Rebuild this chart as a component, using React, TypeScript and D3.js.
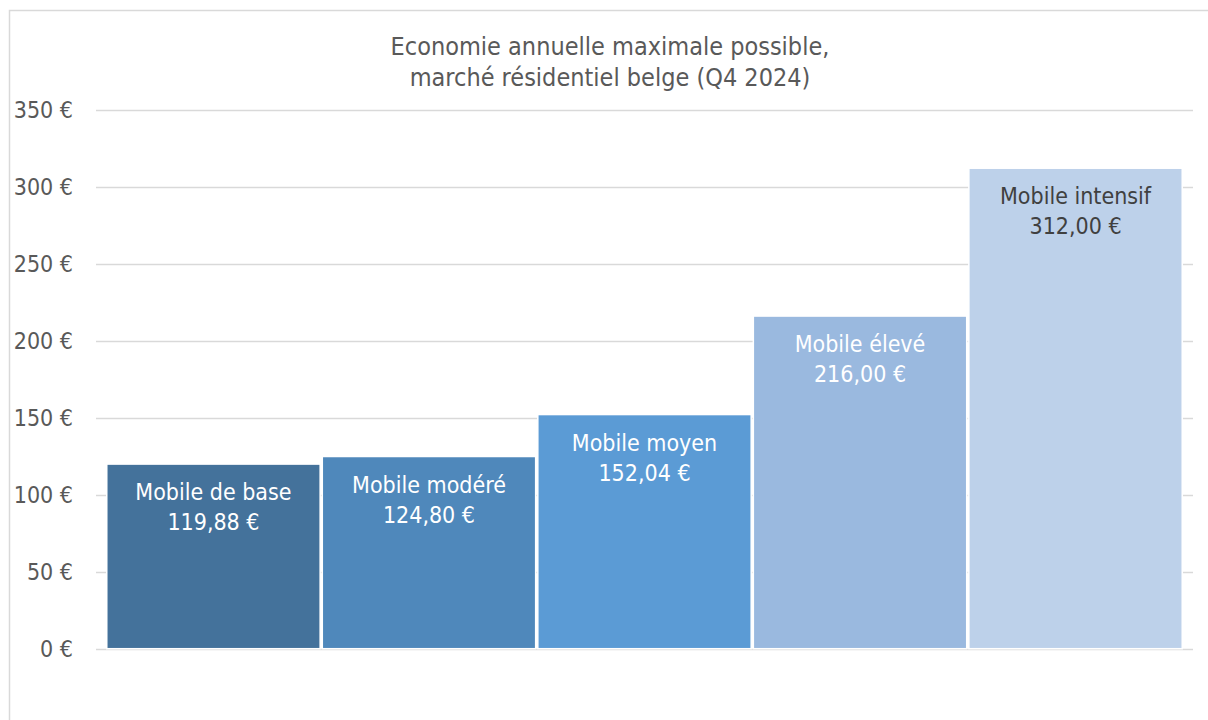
import React from "react";
import * as d3 from "d3";

const categories = ["Mobile de base", "Mobile modéré", "Mobile moyen", "Mobile élevé", "Mobile intensif"];
const values = [119.88, 124.8, 152.04, 216.0, 312.0];
const barColors = ["#44729B", "#4F88BB", "#5B9BD5", "#9AB9DF", "#BDD1EA"];
const labelColors = ["#FFFFFF", "#FFFFFF", "#FFFFFF", "#FFFFFF", "#404040"];
const yTicks = [0, 50, 100, 150, 200, 250, 300, 350];
const titleLines = ["Economie annuelle maximale possible,", "marché résidentiel belge (Q4 2024)"];

const W = 1208;
const H = 720;
const FONT = "'DejaVu Sans Condensed', 'DejaVu Sans', Verdana, sans-serif";

export default function App() {
  const x = d3.scaleBand<string>().domain(categories).range([96, 1193]).paddingInner(0.01).paddingOuter(0.05);
  const y = d3.scaleLinear().domain([0, 350]).range([648.7, 109.7]);
  const fmt = (v: number) => v.toFixed(2).replace(".", ",") + " €";

  return (
    <svg width={W} height={H} style={{ position: "absolute", left: 0, top: 0, background: "#fff" }}>
      <rect x={9.5} y={10.5} width={1300} height={800} fill="#fff" stroke="#D9D9D9" strokeWidth={1.5} />
      {titleLines.map((t, i) => (
        <text key={i} x={610} y={55 + i * 31} textAnchor="middle" fontFamily={FONT} fontSize={25} fill="#595959">
          {t}
        </text>
      ))}
      {yTicks.map((t) => (
        <g key={t}>
          <line x1={96} x2={1193} y1={Math.round(y(t)) + 0.5} y2={Math.round(y(t)) + 0.5} stroke="#D9D9D9" strokeWidth={1.5} />
          <text x={73} y={y(t)} dy="0.35em" textAnchor="end" fontFamily={FONT} fontSize={23} fill="#595959">
            {t} €
          </text>
        </g>
      ))}
      {categories.map((c, i) => {
        const bx = x(c)!;
        const bw = x.bandwidth();
        const top = y(values[i]);
        return (
          <g key={c}>
            <rect x={bx} y={top} width={bw} height={y(0) - top} fill={barColors[i]} stroke="#FFFFFF" strokeWidth={1.5} />
            <text x={bx + bw / 2} y={top + 36} textAnchor="middle" fontFamily={FONT} fontSize={23} fill={labelColors[i]}>
              {c}
            </text>
            <text x={bx + bw / 2} y={top + 66} textAnchor="middle" fontFamily={FONT} fontSize={23} fill={labelColors[i]}>
              {fmt(values[i])}
            </text>
          </g>
        );
      })}
    </svg>
  );
}
